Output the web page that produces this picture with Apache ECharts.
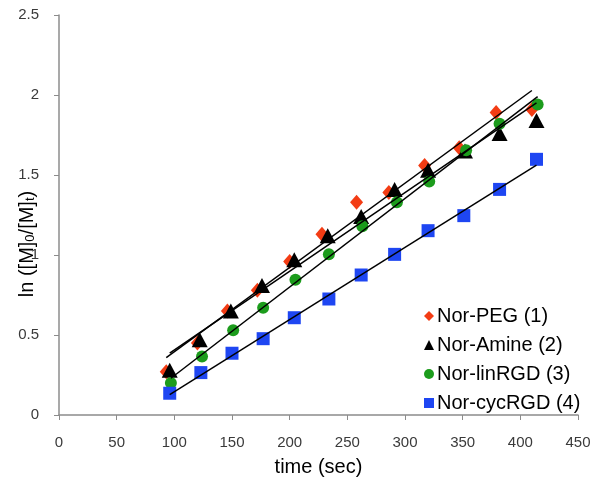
<!DOCTYPE html>
<html>
<head>
<meta charset="utf-8">
<script src="https://cdn.jsdelivr.net/npm/echarts@6/dist/echarts.min.js"></script>
<style>
html,body{margin:0;padding:0;background:#fff;}
#c{width:601px;height:491px;}
</style>
</head>
<body>
<div id="c"></div>
<script>
// ---- data ----
const seriesNames = ['Nor-PEG (1)', 'Nor-Amine (2)', 'Nor-linRGD (3)', 'Nor-cycRGD (4)'];
const timePEG   = [93, 120, 146, 172, 200, 228, 258, 286, 317, 347, 379, 410];
const valuesPEG = [0.27, 0.45, 0.65, 0.78, 0.96, 1.13, 1.33, 1.39, 1.56, 1.67, 1.89, 1.91];
const timeAmine   = [96, 122, 149, 176, 204, 233, 262, 291, 320, 352, 382, 414];
const valuesAmine = [0.28, 0.47, 0.65, 0.81, 0.97, 1.12, 1.24, 1.41, 1.53, 1.65, 1.76, 1.84];
const timeLin   = [97, 124, 151, 177, 205, 234, 263, 293, 321, 353, 382, 415];
const valuesLin = [0.20, 0.365, 0.53, 0.67, 0.845, 1.005, 1.18, 1.33, 1.46, 1.655, 1.82, 1.94];
const timeCyc   = [96, 123, 150, 177, 204, 234, 262, 291, 320, 351, 382, 414];
const valuesCyc = [0.136, 0.265, 0.386, 0.477, 0.608, 0.725, 0.875, 1.004, 1.152, 1.246, 1.41, 1.598];
const xTicks = [0, 50, 100, 150, 200, 250, 300, 350, 400, 450];
const yTicks = [0, 0.5, 1, 1.5, 2, 2.5];

// ---- build ----
const FONT = 'Liberation Sans, Arial, sans-serif';
const times = [timePEG, timeAmine, timeLin, timeCyc];
const vals = [valuesPEG, valuesAmine, valuesLin, valuesCyc];
const colors = ['#f33c14', '#000000', '#1c9c1c', '#1e46f2'];
const symbols = ['diamond', 'triangle', 'circle', 'rect'];
const sizes = [[13, 15], [16, 15], [12, 12], [13, 13]];

function pairs(t, v) { return t.map((x, i) => [x, v[i]]); }
function fit(t, v) {
  const n = t.length;
  const mx = t.reduce((a, b) => a + b, 0) / n;
  const my = v.reduce((a, b) => a + b, 0) / n;
  let sxy = 0, sxx = 0;
  for (let i = 0; i < n; i++) { sxy += (t[i] - mx) * (v[i] - my); sxx += (t[i] - mx) ** 2; }
  const b = sxy / sxx, a = my - b * mx;
  const x0 = Math.min(...t), x1 = Math.max(...t);
  return [[x0, a + b * x0], [x1, a + b * x1]];
}

const series = [];
for (let i = 0; i < 4; i++) {
  series.push({
    name: seriesNames[i], type: 'scatter', data: pairs(times[i], vals[i]),
    symbol: symbols[i], symbolSize: sizes[i],
    itemStyle: { color: colors[i], opacity: 1 }, z: 2 + i
  });
}
for (let i = 0; i < 4; i++) {
  series.push({
    type: 'line', data: fit(times[i], vals[i]), symbol: 'none', silent: true,
    lineStyle: { color: '#000', width: 1.5 }, z: 10
  });
}

const chart = echarts.init(document.getElementById('c'), null, { renderer: 'canvas' });
chart.setOption({
  animation: false,
  backgroundColor: '#fff',
  grid: { left: 59, right: 23, top: 15, bottom: 76, containLabel: false, outerBoundsMode: 'none' },
  legend: {
    data: seriesNames.map((n, i) => ({ name: n, icon: symbols[i] })),
    orient: 'vertical', left: 419, top: 301,
    itemWidth: 10, itemHeight: 10, itemGap: 9,
    textStyle: { fontFamily: FONT, fontSize: 20, color: '#000', padding: [0, 0, 0, -2] }
  },
  graphic: [{
    type: 'text', x: 25, y: 244, rotation: Math.PI / 2, silent: true,
    style: {
      text: '{n|ln ([M]}{s|0}{n|/[M]}{s|t}{n|)}',
      align: 'center', verticalAlign: 'middle',
      fontFamily: FONT, fontSize: 20, fill: '#000',
      rich: {
        n: { fontFamily: FONT, fontSize: 20, fill: '#000', verticalAlign: 'bottom', lineHeight: 24 },
        s: { fontFamily: FONT, fontSize: 13, fill: '#000', verticalAlign: 'bottom', lineHeight: 18 }
      }
    }
  }],
  xAxis: {
    type: 'value', min: xTicks[0], max: xTicks[xTicks.length - 1], interval: 50,
    name: 'time (sec)', nameLocation: 'middle', nameGap: 42,
    nameTextStyle: { fontFamily: FONT, fontSize: 20, color: '#000' },
    axisLine: { show: true, lineStyle: { color: '#8c8c8c', width: 1.5 } },
    axisTick: { show: true, length: 5, lineStyle: { color: '#8c8c8c' } },
    axisLabel: { fontFamily: FONT, fontSize: 15, color: '#3a3a3a', margin: 20 },
    splitLine: { show: false }
  },
  yAxis: {
    type: 'value', min: yTicks[0], max: yTicks[yTicks.length - 1], interval: 0.5,
    axisLine: { show: true, lineStyle: { color: '#8c8c8c', width: 1.5 } },
    axisTick: { show: true, length: 5, lineStyle: { color: '#8c8c8c' } },
    axisLabel: { fontFamily: FONT, fontSize: 15, color: '#3a3a3a', margin: 20 },
    splitLine: { show: false }
  },
  series: series
});
</script>
</body>
</html>
